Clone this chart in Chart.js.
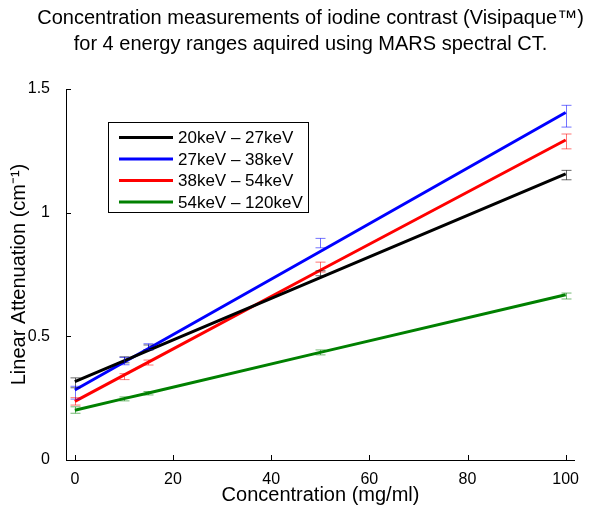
<!DOCTYPE html>
<html>
<head>
<meta charset="utf-8">
<script src="https://cdn.jsdelivr.net/npm/chart.js@4.4.0/dist/chart.umd.min.js"></script>
<style>
  html, body { margin: 0; padding: 0; background: #fff; }
  #wrap { width: 593px; height: 510px; }
</style>
</head>
<body>
<div id="wrap"><canvas id="chart"></canvas></div>
<script>
// concentrations (mg/ml)
var concentrations = [0, 10, 15, 50, 100];
var seriesLabels = ['20keV \u2013 27keV', '27keV \u2013 38keV', '38keV \u2013 54keV', '54keV \u2013 120keV'];
var seriesColors = ['#000000', '#0000ff', '#ff0000', '#008000'];
var errColors = ['rgba(0,0,0,0.6)', 'rgba(0,0,255,0.55)', 'rgba(255,0,0,0.55)', 'rgba(0,128,0,0.55)'];
var titleLines = ['Concentration measurements of iodine contrast (Visipaque\u2122)',
                  'for 4 energy ranges aquired using MARS spectral CT.'];

// fitted lines
var line20_27 = [0.317, 0.401, 0.443, 0.737, 1.157];
var line27_38 = [0.283, 0.395, 0.451, 0.843, 1.405];
var line38_54 = [0.237, 0.343, 0.396, 0.767, 1.294];
var line54_120 = [0.201, 0.248, 0.271, 0.435, 0.668];

// measured means and errors
var mean20_27 = [0.312, 0.405, 0.455, 0.755, 1.152];
var err20_27 = [0.020, 0.012, 0.010, 0.010, 0.019];
var mean27_38 = [0.272, 0.400, 0.458, 0.877, 1.390];
var err27_38 = [0.026, 0.015, 0.012, 0.019, 0.044];
var mean38_54 = [0.237, 0.337, 0.394, 0.780, 1.288];
var err38_54 = [0.015, 0.012, 0.010, 0.020, 0.030];
var mean54_120 = [0.202, 0.247, 0.270, 0.435, 0.663];
var err54_120 = [0.013, 0.008, 0.007, 0.010, 0.012];

var xTicks = [0, 20, 40, 60, 80, 100];
var yTicks = [0, 0.5, 1, 1.5];

var lines = [line20_27, line27_38, line38_54, line54_120];
var means = [mean20_27, mean27_38, mean38_54, mean54_120];
var errs = [err20_27, err27_38, err38_54, err54_120];

var FONT = 'Liberation Sans, Arial, Helvetica, sans-serif';

var datasets = lines.map(function (vals, i) {
    return {
        label: seriesLabels[i],
        data: concentrations.map(function (c, j) { return { x: c, y: vals[j] }; }),
        borderColor: seriesColors[i],
        backgroundColor: seriesColors[i],
        borderWidth: 3,
        pointRadius: 0,
        fill: false,
        tension: 0
    };
});

// error bars drawn through the scales
var errorBars = {
    id: 'errorBars',
    afterDatasetsDraw: function (chart) {
        var ctx = chart.ctx, xs = chart.scales.x, ys = chart.scales.y;
        ctx.save();
        ctx.lineWidth = 1;
        means.forEach(function (m, i) {
            ctx.strokeStyle = errColors[i];
            concentrations.forEach(function (c, j) {
                var px = Math.round(xs.getPixelForValue(c)) + 0.5;
                var top = ys.getPixelForValue(m[j] + errs[i][j]);
                var bot = ys.getPixelForValue(m[j] - errs[i][j]);
                ctx.beginPath();
                ctx.moveTo(px, top); ctx.lineTo(px, bot);
                ctx.moveTo(px - 5, top); ctx.lineTo(px + 5, top);
                ctx.moveTo(px - 5, bot); ctx.lineTo(px + 5, bot);
                ctx.stroke();
            });
        });
        ctx.restore();
    }
};

// inward ticks, L-shaped axes, title centred over the axes
var axesBox = {
    id: 'axesBox',
    afterDraw: function (chart) {
        var ctx = chart.ctx, a = chart.chartArea, xs = chart.scales.x, ys = chart.scales.y;
        ctx.save();
        ctx.strokeStyle = '#000';
        ctx.lineWidth = 1;
        ctx.beginPath();
        ctx.moveTo(a.left + 0.5, a.top); ctx.lineTo(a.left + 0.5, a.bottom + 0.5); ctx.lineTo(a.right, a.bottom + 0.5);
        xTicks.forEach(function (t) {
            var px = Math.round(xs.getPixelForValue(t)) + 0.5;
            ctx.moveTo(px, a.bottom); ctx.lineTo(px, a.bottom - 5);
        });
        yTicks.forEach(function (t) {
            var py = Math.round(ys.getPixelForValue(t)) + 0.5;
            ctx.moveTo(a.left, py); ctx.lineTo(a.left + 5, py);
        });
        ctx.stroke();

        ctx.fillStyle = '#000';
        ctx.font = '20px ' + FONT;
        ctx.textAlign = 'center';
        ctx.textBaseline = 'middle';
        var cx = (a.left + a.right) / 2 - 10;
        titleLines.forEach(function (t, i) { ctx.fillText(t, cx, 18 + i * 26); });
        ctx.restore();
    }
};

// legend box inside the plot
var boxLegend = {
    id: 'boxLegend',
    afterDraw: function (chart) {
        var ctx = chart.ctx;
        var x0 = 108, y0 = 122, w = 200, h = 90, row = 21.5;
        ctx.save();
        ctx.fillStyle = '#fff';
        ctx.fillRect(x0, y0, w, h);
        ctx.strokeStyle = '#000';
        ctx.lineWidth = 1;
        ctx.strokeRect(x0 + 0.5, y0 + 0.5, w, h);
        ctx.font = '17px ' + FONT;
        ctx.textBaseline = 'middle';
        seriesLabels.forEach(function (lab, i) {
            var y = y0 + 15.5 + i * row;
            ctx.strokeStyle = seriesColors[i];
            ctx.lineWidth = 3;
            ctx.beginPath();
            ctx.moveTo(119, y); ctx.lineTo(173, y);
            ctx.stroke();
            ctx.fillStyle = '#000';
            ctx.fillText(lab, 178, y + 1);
        });
        ctx.restore();
    }
};

new Chart(document.getElementById('chart'), {
    type: 'line',
    data: { datasets: datasets },
    options: {
        responsive: true,
        maintainAspectRatio: false,
        animation: false,
        layout: { padding: { left: 0, right: 18, top: 89, bottom: 0 } },
        plugins: {
            legend: { display: false },
            tooltip: { enabled: false },
            title: { display: false }
        },
        scales: {
            x: {
                type: 'linear',
                min: -1.8,
                max: 101.9,
                afterBuildTicks: function (s) { s.ticks = xTicks.map(function (v) { return { value: v }; }); },
                afterFit: function (s) { s.height = 50; },
                grid: { display: false },
                border: { display: false },
                ticks: { color: '#000', font: { family: FONT, size: 16 }, padding: 2, maxRotation: 0 },
                title: { display: true, text: 'Concentration (mg/ml)', color: '#000',
                         font: { family: FONT, size: 20 }, padding: { top: 0, bottom: 3 } }
            },
            y: {
                min: 0,
                max: 1.5,
                afterBuildTicks: function (s) { s.ticks = yTicks.map(function (v) { return { value: v }; }); },
                afterFit: function (s) { s.width = 66; },
                grid: { display: false },
                border: { display: false },
                ticks: { color: '#000', font: { family: FONT, size: 16 }, padding: 8,
                         callback: function (v) { return String(v); } },
                title: { display: true, text: 'Linear Attenuation (cm\u207B\u00B9)', color: '#000',
                         font: { family: FONT, size: 20 }, padding: { top: 7, bottom: 4 } }
            }
        }
    },
    plugins: [errorBars, axesBox, boxLegend]
});
</script>
</body>
</html>
